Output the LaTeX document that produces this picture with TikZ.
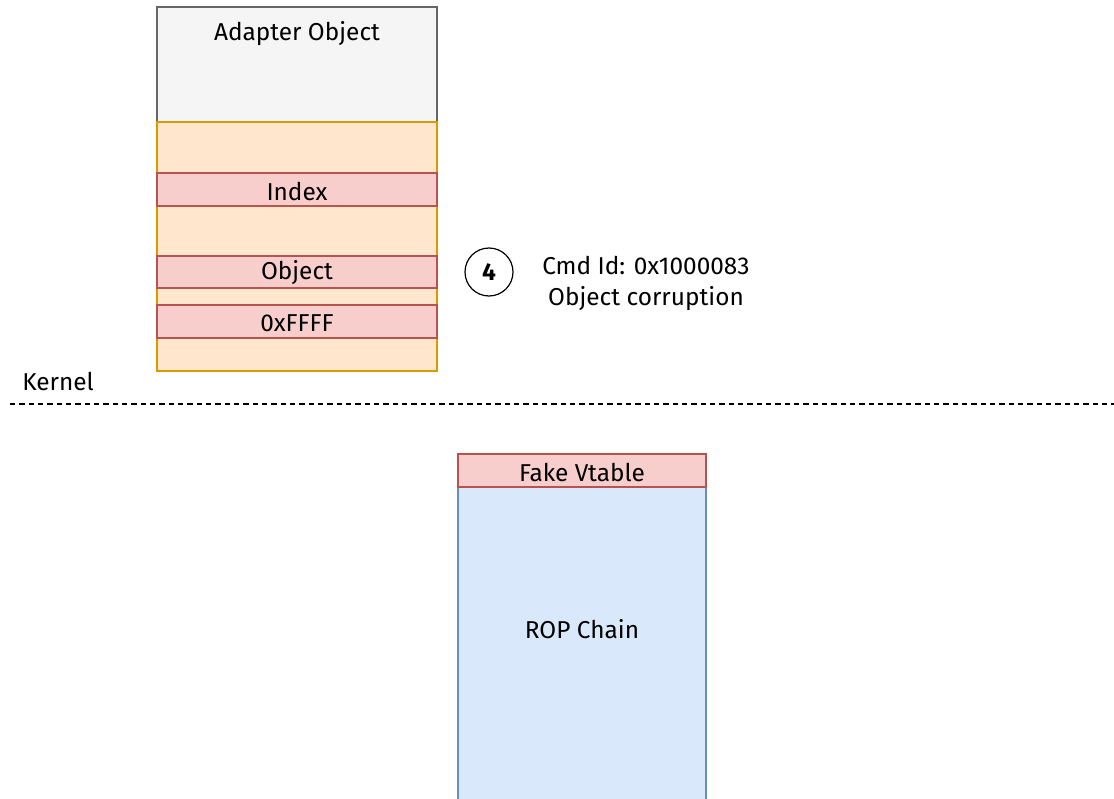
\documentclass[tikz,border=0pt]{standalone}
\usepackage{fontspec}
\setmainfont{Fira Sans}
\definecolor{grayfill}{HTML}{F5F5F5}
\definecolor{graydraw}{HTML}{666666}
\definecolor{orfill}{HTML}{FFE6CC}
\definecolor{ordraw}{HTML}{D79B00}
\definecolor{redfill}{HTML}{F8CECC}
\definecolor{reddraw}{HTML}{B85450}
\definecolor{bluefill}{HTML}{DAE8FC}
\definecolor{bluedraw}{HTML}{6C8EBF}
\begin{document}
\begin{tikzpicture}[x=0.75pt,y=-0.75pt,
  every node/.style={font=\fontsize{18.3}{23}\selectfont, inner sep=0pt},
  box/.style={line width=0.9pt},
  redbox/.style={box, fill=redfill, draw=reddraw}]
\useasboundingbox (0,0) rectangle (1114,799);
% Adapter object
\draw[box, fill=grayfill, draw=graydraw] (157,7) rectangle (437,122);
\node (adtitle) at (297,34) {Adapter Object};
\draw[box, fill=orfill, draw=ordraw] (157,122) rectangle (437,371);
\draw[redbox] (157,173) rectangle (437,206);
\node (idx) at (297,191) {Index};
\draw[redbox] (157,256) rectangle (437,288);
\node (obj) at (297,273) {Object};
\draw[redbox] (157,305) rectangle (437,338);
\node (ffff) at (297,323) {0xFFFF};
% step 4
\node[circle, draw, line width=0.9pt, minimum size=36pt, font=\fontsize{18.3}{23}\selectfont\bfseries] (four) at (489,272) {4};
\node[align=center, font=\fontsize{18.3}{23.3}\selectfont] (cmd) at (646,283) {Cmd Id: 0x1000083\\Object corruption};
% kernel line
\node[anchor=west] (kernel) at (22,381) {Kernel};
\coordinate (dl) at (10,404);
\coordinate (dr) at (1114,404);
\draw[dashed, line width=0.9pt, dash pattern=on 4pt off 3pt] (dl) -- (dr);
% ROP chain
\fill[bluefill] (458,487) rectangle (706,800);
\draw[box, draw=bluedraw] (458,800) -- (458,487) -- (706,487) -- (706,800);
\draw[redbox] (458,454) rectangle (706,487);
\node (fv) at (582,472) {Fake Vtable};
\node (rop) at (582,629) {ROP Chain};
\end{tikzpicture}
\end{document}
